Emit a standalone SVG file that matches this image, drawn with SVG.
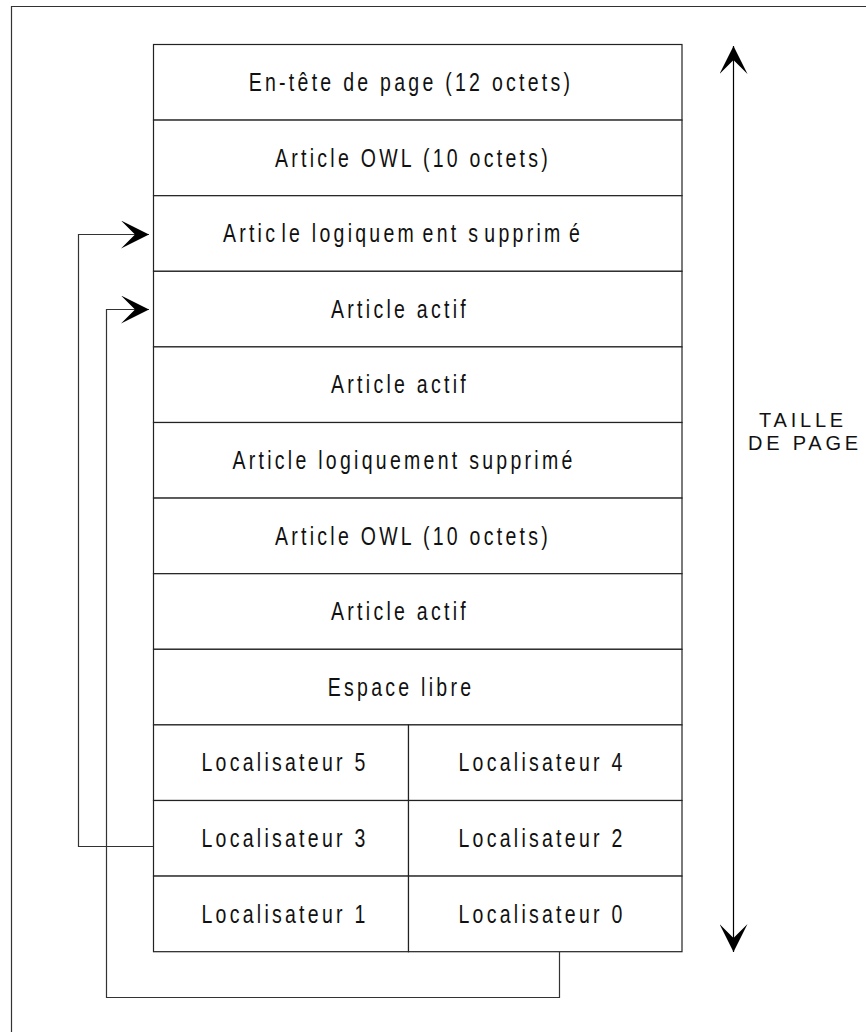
<svg xmlns="http://www.w3.org/2000/svg" width="866" height="1032" viewBox="0 0 866 1032">
  <style>
    .cell { fill: #ffffff; stroke: #222222; stroke-width: 1.2; }
    .frame { fill: none; stroke: #333333; stroke-width: 1.2; }
    .link { fill: none; stroke: #333333; stroke-width: 1.2; }
    .lbl { font-family: "Liberation Sans", Arial, sans-serif; font-size: 25px; letter-spacing: 4.2px; fill: #111111; text-anchor: middle; }
    .side { font-family: "Liberation Sans", Arial, sans-serif; font-size: 20px; letter-spacing: 3.8px; fill: #111111; text-anchor: middle; }
  </style>
  <defs>
    <marker id="stealth" viewBox="0 0 28 28" refX="28" refY="14" markerWidth="28" markerHeight="28" markerUnits="userSpaceOnUse" orient="auto-start-reverse">
      <path d="M0,0 L28,14 L0,28 L14,14 Z" fill="#000000"/>
    </marker>
  </defs>

  <rect width="866" height="1032" fill="#ffffff"/>

  <!-- outer frame (open to the right and bottom) -->
  <path class="frame" d="M11.5,1032 V6.5 H866"/>

  <!-- page layout, one row per slot; labels use a narrowed sans -->
  <g id="row-header">
    <rect class="cell" x="153.5" y="44.5" width="528.5" height="75.6"/>
    <text class="lbl" transform="translate(411,91) scale(0.78,1)">En-tête de page (12 octets)</text>
  </g>
  <g id="row-owl-1">
    <rect class="cell" x="153.5" y="120.1" width="528.5" height="75.6"/>
    <text class="lbl" transform="translate(413,166.6) scale(0.78,1)">Article OWL (10 octets)</text>
  </g>
  <g id="row-deleted-1">
    <rect class="cell" x="153.5" y="195.7" width="528.5" height="75.6"/>
    <text class="lbl" transform="translate(403,242.2) scale(0.78,1)">Artic<tspan dx="4">le logiquem</tspan><tspan dx="7">ent s</tspan><tspan dx="4">upprim</tspan><tspan dx="7">é</tspan></text>
  </g>
  <g id="row-active-1">
    <rect class="cell" x="153.5" y="271.3" width="528.5" height="75.6"/>
    <text class="lbl" transform="translate(400,317.8) scale(0.78,1)">Article actif</text>
  </g>
  <g id="row-active-2">
    <rect class="cell" x="153.5" y="346.9" width="528.5" height="75.6"/>
    <text class="lbl" transform="translate(400,393.4) scale(0.78,1)">Article actif</text>
  </g>
  <g id="row-deleted-2">
    <rect class="cell" x="153.5" y="422.5" width="528.5" height="75.6"/>
    <text class="lbl" transform="translate(404,469) scale(0.78,1)">Article logiquement supprimé</text>
  </g>
  <g id="row-owl-2">
    <rect class="cell" x="153.5" y="498.1" width="528.5" height="75.6"/>
    <text class="lbl" transform="translate(413,544.6) scale(0.78,1)">Article OWL (10 octets)</text>
  </g>
  <g id="row-active-3">
    <rect class="cell" x="153.5" y="573.7" width="528.5" height="75.6"/>
    <text class="lbl" transform="translate(400,620.2) scale(0.78,1)">Article actif</text>
  </g>
  <g id="row-free">
    <rect class="cell" x="153.5" y="649.3" width="528.5" height="75.6"/>
    <text class="lbl" transform="translate(401,695.8) scale(0.78,1)">Espace libre</text>
  </g>

  <!-- slot array at the end of the page -->
  <g id="loc-5">
    <rect class="cell" x="153.5" y="724.9" width="255" height="75.6"/>
    <text class="lbl" transform="translate(285,771.4) scale(0.78,1)">Localisateur 5</text>
  </g>
  <g id="loc-4">
    <rect class="cell" x="408.5" y="724.9" width="273.5" height="75.6"/>
    <text class="lbl" transform="translate(542,771.4) scale(0.78,1)">Localisateur 4</text>
  </g>
  <g id="loc-3">
    <rect class="cell" x="153.5" y="800.5" width="255" height="75.6"/>
    <text class="lbl" transform="translate(285,847) scale(0.78,1)">Localisateur 3</text>
  </g>
  <g id="loc-2">
    <rect class="cell" x="408.5" y="800.5" width="273.5" height="75.6"/>
    <text class="lbl" transform="translate(542,847) scale(0.78,1)">Localisateur 2</text>
  </g>
  <g id="loc-1">
    <rect class="cell" x="153.5" y="876.1" width="255" height="75.6"/>
    <text class="lbl" transform="translate(285,922.6) scale(0.78,1)">Localisateur 1</text>
  </g>
  <g id="loc-0">
    <rect class="cell" x="408.5" y="876.1" width="273.5" height="75.6"/>
    <text class="lbl" transform="translate(542,922.6) scale(0.78,1)">Localisateur 0</text>
  </g>

  <!-- page size dimension -->
  <g id="page-size">
    <line x1="733.5" y1="46" x2="733.5" y2="952" stroke="#000000" stroke-width="1.2" marker-start="url(#stealth)" marker-end="url(#stealth)"/>
    <text class="side" x="803" y="427">TAILLE</text>
    <text class="side" x="805" y="450">DE PAGE</text>
  </g>

  <!-- slot pointers -->
  <g id="connectors">
    <path class="link" d="M153,846.5 H78.5 V234.5 H149" marker-end="url(#stealth)"/>
    <path class="link" d="M559.5,952 V997.5 H106.5 V309.5 H149" marker-end="url(#stealth)"/>
  </g>
</svg>
